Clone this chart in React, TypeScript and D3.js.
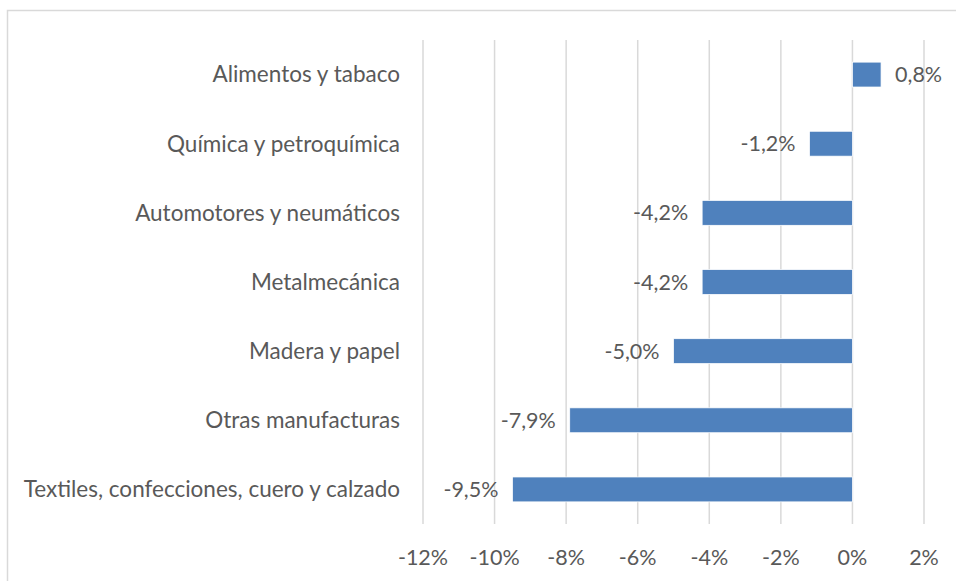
import React, { useEffect, useRef } from 'react';
import * as d3 from 'd3';

const categories = [
    "Alimentos y tabaco",
    "Química y petroquímica",
    "Automotores y neumáticos",
    "Metalmecánica",
    "Madera y papel",
    "Otras manufacturas",
    "Textiles, confecciones, cuero y calzado",
];
const values = [0.8, -1.2, -4.2, -4.2, -5.0, -7.9, -9.5];
const xTicks = [-12, -10, -8, -6, -4, -2, 0, 2];

const App = () => {
    const svgRef = useRef<SVGSVGElement>(null);

    useEffect(() => {
        const svg = d3.select(svgRef.current);
        svg.selectAll("*").remove();

        const width = 956;
        const height = 581;
        const plot = { left: 423, right: 924, top: 40, bottom: 524 };
        const font = "Lato, 'Open Sans', sans-serif";
        const fontSize = 21.5;
        const textColor = "#595959";

        // outer chart frame
        svg.append("rect")
            .attr("x", 7.5)
            .attr("y", 10.5)
            .attr("width", width)
            .attr("height", height)
            .attr("fill", "white")
            .attr("stroke", "#d9d9d9")
            .attr("stroke-width", 1.5);

        const xScale = d3.scaleLinear()
            .domain([-12, 2])
            .range([plot.left, plot.right]);

        const yScale = d3.scaleBand()
            .domain(categories)
            .range([plot.top, plot.bottom])
            .paddingInner(0.64)
            .paddingOuter(0.32);

        // gridlines
        svg.append("g")
            .selectAll("line")
            .data(xTicks)
            .enter()
            .append("line")
            .attr("x1", (d) => xScale(d))
            .attr("x2", (d) => xScale(d))
            .attr("y1", plot.top)
            .attr("y2", plot.bottom)
            .attr("stroke", "#d9d9d9")
            .attr("stroke-width", 1.5);

        // x tick labels
        svg.append("g")
            .selectAll("text")
            .data(xTicks)
            .enter()
            .append("text")
            .attr("x", (d) => xScale(d))
            .attr("y", 557)
            .attr("dy", "0.35em")
            .attr("text-anchor", "middle")
            .attr("font-family", font)
            .attr("font-size", fontSize)
            .attr("fill", textColor)
            .text((d) => `${d}%`);

        const data = categories.map((c, i) => ({ category: c, value: values[i] }));

        // bars
        svg.append("g")
            .selectAll("rect")
            .data(data)
            .enter()
            .append("rect")
            .attr("x", (d) => xScale(Math.min(0, d.value)))
            .attr("y", (d) => yScale(d.category)!)
            .attr("width", (d) => Math.abs(xScale(d.value) - xScale(0)))
            .attr("height", yScale.bandwidth())
            .attr("fill", "#4f81bd")
            .attr("stroke", "#ffffff")
            .attr("stroke-width", 0.75);

        // value labels
        svg.append("g")
            .selectAll("text")
            .data(data)
            .enter()
            .append("text")
            .attr("x", (d) => d.value < 0 ? xScale(d.value) - 14 : xScale(d.value) + 14)
            .attr("y", (d) => yScale(d.category)! + yScale.bandwidth() / 2)
            .attr("dy", "0.35em")
            .attr("text-anchor", (d) => d.value < 0 ? "end" : "start")
            .attr("font-family", font)
            .attr("font-size", fontSize)
            .attr("fill", textColor)
            .text((d) => `${d.value.toFixed(1).replace(".", ",")}%`);

        // category labels
        svg.append("g")
            .selectAll("text")
            .data(categories)
            .enter()
            .append("text")
            .attr("x", 400)
            .attr("y", (d) => yScale(d)! + yScale.bandwidth() / 2)
            .attr("dy", "0.35em")
            .attr("text-anchor", "end")
            .attr("font-family", font)
            .attr("font-size", 22.5)
            .attr("fill", textColor)
            .text((d) => d);
    }, []);

    return (
        <svg ref={svgRef} width={956} height={581}
             style={{ position: "absolute", left: 0, top: 0 }}></svg>
    );
};

export default App;
